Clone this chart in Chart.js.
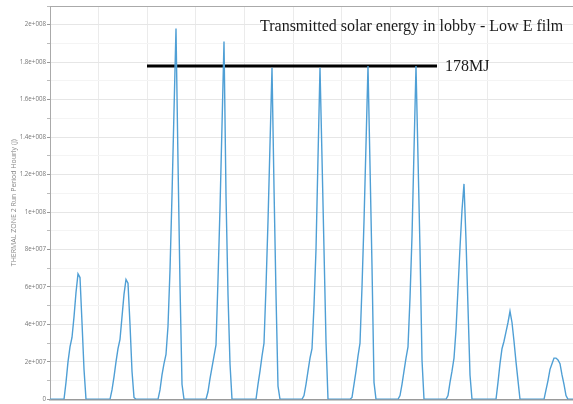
<!DOCTYPE html>
<html>
<head>
<meta charset="utf-8">
<title>Transmitted solar energy in lobby</title>
<script src="https://cdn.jsdelivr.net/npm/chart.js@4.4.1/dist/chart.umd.min.js"></script>
<style>
    html, body { margin: 0; padding: 0; background: #fff; }
    #wrap { width: 573px; height: 404px; }
</style>
</head>
<body>
<div id="wrap"><canvas id="solar-chart" width="573" height="404"></canvas></div>
<script>
// Hourly transmitted solar energy, one array per day (MJ, hours 0..23)
const DAY_01 = [0, 0, 0, 0, 0, 0, 0, 0, 9, 20, 28, 33, 44, 57, 67, 65, 41, 16, 0, 0, 0, 0, 0, 0];
const DAY_02 = [0, 0, 0, 0, 0, 0, 0, 5, 12, 20, 27, 32, 44, 56, 64, 62, 40, 15, 1, 0, 0, 0, 0, 0];
const DAY_03 = [0, 0, 0, 0, 0, 0, 0, 5, 13, 19, 24, 39, 69, 109, 154, 198, 127, 61, 8, 0, 0, 0, 0, 0];
const DAY_04 = [0, 0, 0, 0, 0, 0, 0, 4, 11, 17, 23, 29, 64, 102, 146, 191, 109, 56, 19, 0, 0, 0, 0, 0];
const DAY_05 = [0, 0, 0, 0, 0, 0, 0, 0, 8, 15, 23, 30, 60, 95, 136, 177, 113, 56, 7, 0, 0, 0, 0, 0];
const DAY_06 = [0, 0, 0, 0, 0, 0, 0, 2, 8, 15, 22, 27, 50, 80, 129, 177, 129, 80, 31, 0, 0, 0, 0, 0];
const DAY_07 = [0, 0, 0, 0, 0, 0, 0, 1, 8, 15, 23, 30, 60, 95, 136, 178, 125, 71, 9, 0, 0, 0, 0, 0];
const DAY_08 = [0, 0, 0, 0, 0, 0, 0, 2, 8, 15, 22, 28, 54, 87, 133, 178, 129, 80, 21, 0, 0, 0, 0, 0];
const DAY_09 = [0, 0, 0, 0, 0, 0, 0, 2, 9, 15, 22, 37, 59, 81, 101, 115, 85, 49, 13, 0, 0, 0, 0, 0];
const DAY_10 = [0, 0, 0, 0, 0, 0, 0, 0, 9, 19, 27, 31, 36, 41, 47, 41, 31, 20, 10, 0, 0, 0, 0, 0];
const DAY_11 = [0, 0, 0, 0, 0, 0, 0, 0, 5, 10, 16, 19, 22, 22, 21, 19, 13, 8, 2, 0, 0, 0, 0, 0];
const DAYS = [DAY_01, DAY_02, DAY_03, DAY_04, DAY_05, DAY_06, DAY_07, DAY_08, DAY_09, DAY_10, DAY_11];

// Reference level drawn across the clear-sky days
const REF_LEVEL_MJ = 178;
const REF_START_HOUR = 48.5;
const REF_END_HOUR = 193.5;
const REF_LABEL = '178MJ';

const CHART_TITLE = 'Transmitted solar energy in lobby - Low E film';
const Y_TITLE = 'THERMAL ZONE 2 Run Period Hourly (J)';
const Y_TICK_LABELS = ['0', '2e+007', '4e+007', '6e+007', '8e+007', '1e+008',
    '1.2e+008', '1.4e+008', '1.6e+008', '1.8e+008', '2e+008'];

const MJ = 1e6;
const Y_MAX = 2.1e8;
const X_MAX = 261.5;
const X_GRID_STEP = 24.3;

// Flatten days into one hourly series
const hourly = [];
DAYS.forEach((day, d) => {
    day.forEach((v, h) => hourly.push({ x: d * 24 + h, y: v * MJ }));
});

const annotations = {
    id: 'annotations',
    afterDatasetsDraw(chart) {
        const { ctx, scales: { x, y } } = chart;
        ctx.save();
        ctx.fillStyle = '#1a1a1a';
        ctx.font = '16px "Liberation Serif", "Times New Roman", serif';
        ctx.textBaseline = 'alphabetic';
        ctx.textAlign = 'left';
        ctx.fillText(CHART_TITLE, 260, 31);

        ctx.textBaseline = 'middle';
        ctx.fillText(REF_LABEL, x.getPixelForValue(REF_END_HOUR) + 8, y.getPixelForValue(REF_LEVEL_MJ * MJ) + 1);
        ctx.restore();
    }
};

const isMajor = v => Math.round(v / 1e7) % 2 === 0;

new Chart(document.getElementById('solar-chart'), {
    type: 'line',
    data: {
        datasets: [
            {
                data: hourly,
                borderColor: '#4f9fd5',
                borderWidth: 1.4,
                pointRadius: 0,
                tension: 0,
                fill: false,
            },
            {
                data: [
                    { x: REF_START_HOUR, y: REF_LEVEL_MJ * MJ },
                    { x: REF_END_HOUR, y: REF_LEVEL_MJ * MJ },
                ],
                borderColor: '#000',
                borderWidth: 3,
                pointRadius: 0,
                fill: false,
            }
        ]
    },
    options: {
        responsive: false,
        animation: false,
        devicePixelRatio: 1,
        layout: { padding: { top: 6, right: 0, bottom: 2, left: 0 } },
        plugins: { legend: { display: false }, tooltip: { enabled: false } },
        scales: {
            x: {
                type: 'linear',
                min: 0,
                max: X_MAX,
                ticks: { display: false, stepSize: X_GRID_STEP },
                grid: { color: '#ebebeb', drawTicks: false },
                border: { color: '#999', width: 1.5 }
            },
            y: {
                min: 0,
                max: Y_MAX,
                afterFit: scale => { scale.width = 50; },
                ticks: {
                    stepSize: 1e7,
                    padding: 1,
                    color: '#777',
                    font: { family: 'Open Sans', size: 6.2 },
                    callback: v => isMajor(v) ? Y_TICK_LABELS[Math.round(v / 2e7)] : ''
                },
                grid: {
                    tickLength: 3,
                    color: ctx => ctx.tick.value >= Y_MAX ? '#aaa' : (isMajor(ctx.tick.value) ? '#e6e6e6' : '#f4f4f4'),
                    tickColor: ctx => isMajor(ctx.tick.value) ? '#999' : '#bbb'
                },
                border: { color: '#aaa' },
                title: {
                    display: true,
                    text: Y_TITLE,
                    color: '#888',
                    font: { family: 'Open Sans', size: 7 },
                    padding: { top: 10, bottom: 0 }
                }
            }
        }
    },
    plugins: [annotations]
});
</script>
</body>
</html>
